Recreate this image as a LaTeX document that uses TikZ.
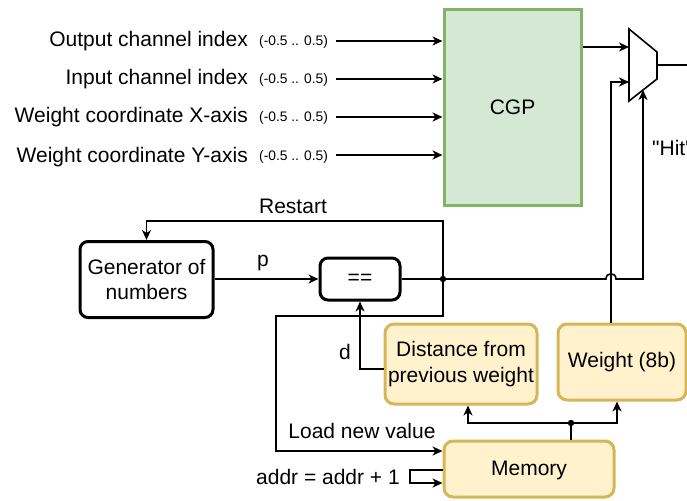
\documentclass[tikz,border=0pt]{standalone}
\usepackage{fontspec}
\setmainfont{Liberation Sans}
\newfontfamily\straightfont{Liberation Sans}[Ligatures=TeXOff]
\usetikzlibrary{arrows.meta}

\definecolor{gfill}{HTML}{D5E8D4}
\definecolor{gdraw}{HTML}{82B366}
\definecolor{yfill}{HTML}{FFF2CC}
\definecolor{ydraw}{HTML}{D6B656}

\newcommand\bigtxt{\fontsize{21}{25.5}\selectfont}
\newcommand\rngtxt{\fontsize{13.8}{16}\selectfont}

\tikzset{
  wire/.style={line width=1.6pt, draw=black},
  arr/.style={wire, -{Stealth[length=10pt,width=9pt,inset=3pt]}},
  block/.style={draw=black, line width=3pt, rounded corners=8pt, fill=white,
    align=center, font=\bigtxt, inner sep=0pt},
  ybox/.style={draw=ydraw, fill=yfill, line width=3pt, rounded corners=9pt,
    align=center, font=\bigtxt, inner sep=0pt},
  cgpbox/.style={draw=gdraw, fill=gfill, line width=3pt, font=\bigtxt},
  lbl/.style={font=\bigtxt, inner sep=0pt},
  rng/.style={font=\rngtxt, inner sep=0pt},
}

\begin{document}
\begin{tikzpicture}[x=1pt, y=-1pt]
\useasboundingbox (0,0) rectangle (687,500);

% CGP block and its four inputs
\node[cgpbox, minimum width=137pt, minimum height=195pt] (cgp) at (512.5,107.5) {CGP};

\node[lbl, anchor=east] (t1) at (248,41) {Output channel index};
\node[lbl, anchor=east] (t2) at (248,79) {Input channel index};
\node[lbl, anchor=east] (t3) at (248,117) {Weight coordinate X-axis};
\node[lbl, anchor=east] (t4) at (248,157) {Weight coordinate Y-axis};
\node[rng, anchor=west] (r1) at (259,42) {(-0.5 .. 0.5)};
\node[rng, anchor=west] (r2) at (259,80) {(-0.5 .. 0.5)};
\node[rng, anchor=west] (r3) at (259,118) {(-0.5 .. 0.5)};
\node[rng, anchor=west] (r4) at (259,157) {(-0.5 .. 0.5)};
\coordinate (s1) at (336,41);
\coordinate (s2) at (336,79);
\coordinate (s3) at (336,117);
\coordinate (s4) at (336,155);
\foreach \i in {1,...,4}
  \draw[arr] (s\i) -- (s\i -| cgp.west);

% multiplexer
\coordinate (m1) at (629,29);
\coordinate (m2) at (657,52);
\coordinate (m3) at (657,79);
\coordinate (m4) at (629,101);
\draw[wire, fill=white] (m1) -- (m2) -- (m3) -- (m4) -- cycle;
\coordinate (muxin1) at (629,47);
\coordinate (muxin2) at (629,82);
\coordinate (muxsel) at (643,90);
\coordinate (muxout) at (657,65);
\coordinate (outR) at (687,65);
\draw[arr] (cgp.east |- muxin1) -- (muxin1);
\draw[wire] (muxout) -- (outR);
\node[lbl, anchor=west] (hit) at (652,148) {\straightfont "Hit"};

% blocks
\node[block, minimum width=133pt, minimum height=76pt] (gen) at (146.5,279.5) {Generator of\\numbers};
\node[block, minimum width=80pt, minimum height=42pt] (eq) at (360,279) {==};
\node[ybox, minimum width=152pt, minimum height=80pt] (dist) at (461,364) {Distance from\\previous weight};
\node[ybox, minimum width=128pt, minimum height=76pt] (wt) at (622,362) {Weight (8b)};
\node[ybox, minimum width=170pt, minimum height=56pt, text depth=1pt] (mem) at (529,469) {Memory};

% comparator loop
\coordinate (j1) at (443,279);
\draw[arr] (gen.east |- eq.west) -- (eq.west);
\node[lbl] (plbl) at (263,263) {p};
\draw[wire] (eq.east) -- (j1);
\draw[arr] (j1) -- (606,279) .. controls (606,272) and (616,272) .. (616,279)
  -- (643,279) -- (muxsel);
\draw[arr] (j1) -- (443,221) -| (gen.north);
\node[lbl] (restart) at (293,206) {Restart};
\draw[arr] (j1) -- (443,316) -| (276,451) -- ([yshift=18pt]mem.west);
\fill (j1) circle (3.2pt);

% memory outputs
\draw[arr] ([yshift=-5pt]dist.west) -| (eq.south);
\node[lbl] (dlbl) at (345,352) {d};
\node[lbl] (load) at (362,431) {Load new value};

\coordinate (j2) at (571,423);
\draw[wire] (mem.north -| j2) -- (j2);
\draw[arr] (j2) -| ([xshift=7pt]dist.south);
\draw[arr] (j2) -| ([xshift=-5pt]wt.south);
\fill (j2) circle (3.2pt);
\draw[arr] ([xshift=-11pt]wt.north) |- (muxin2);

\draw[arr] ([yshift=-1pt]mem.west) -- (410,470) -- (410,483) -- ([yshift=-14pt]mem.west);
\node[lbl, anchor=east] (addr) at (400,477) {addr = addr + 1};
\end{tikzpicture}
\end{document}
